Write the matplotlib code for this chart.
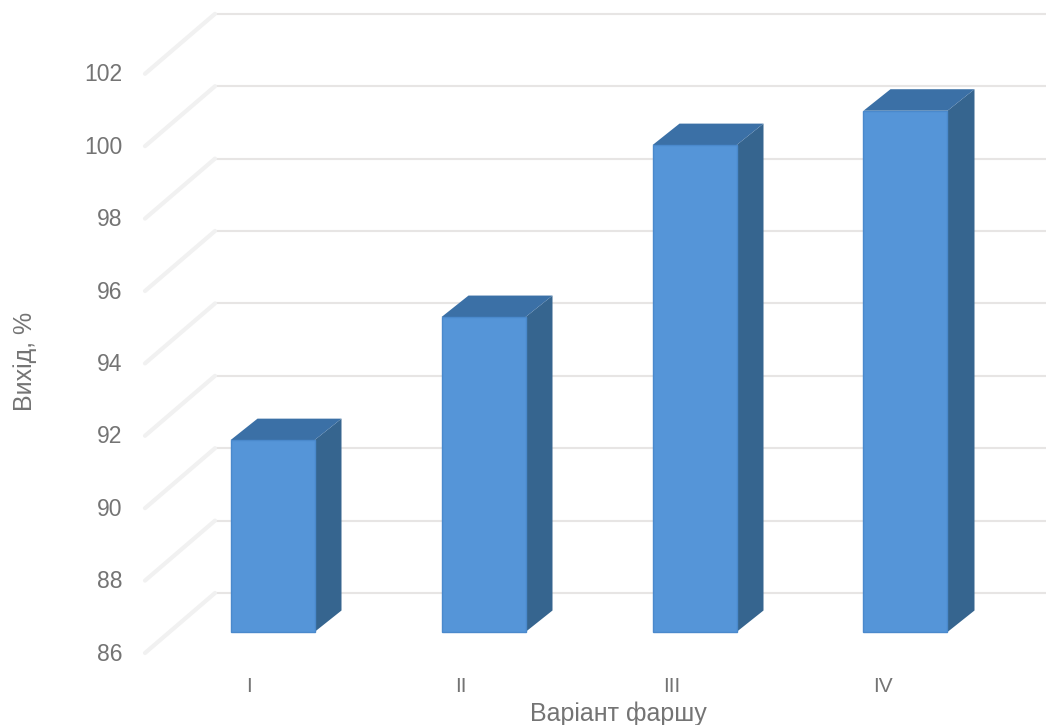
import matplotlib
matplotlib.use('Agg')
import matplotlib.pyplot as plt
from matplotlib.patches import Polygon

# Вихід за варіантами фаршу
variants = ['I', 'II', 'III', 'IV']
output_pct = [91.3, 94.7, 99.45, 100.4]
y_ticks = [86, 88, 90, 92, 94, 96, 98, 100, 102]

BASE = 86
PX_X = 211.0      # пікселів на одну категорію
PX_Y = 36.2       # пікселів на одиницю осі
W, H = 1046, 725
X0, Y0 = 272.5, 632
FONT = 'Liberation Sans'

# зсуви псевдо-3D у координатах даних
bar_w = 84 / PX_X
bar_dx = 27 / PX_X
bar_dy = 21.5 / PX_Y
wall_dy = 39 / PX_Y
front_dy = -21 / PX_Y
wall_left = (215 - X0) / PX_X
front_left = (145 - X0) / PX_X

fig = plt.figure(figsize=(W / 100, H / 100), dpi=100)
ax = fig.add_axes([0, 0, 1, 1])
ax.set_xlim(-X0 / PX_X, (W - X0) / PX_X)
ax.set_ylim(BASE - (H - Y0) / PX_Y, BASE + Y0 / PX_Y)
ax.axis('off')

# задня стінка і бічні лінії сітки
for t in y_ticks:
    ax.plot([wall_left, ax.get_xlim()[1]], [t + wall_dy, t + wall_dy],
            color='#e7e5e4', lw=1.5, zorder=1, solid_capstyle='butt')
    ax.plot([front_left, wall_left], [t + front_dy, t + wall_dy],
            color='#f1f1f1', lw=3, zorder=1, solid_capstyle='round')
    ax.text(front_left - 23 / PX_X, t + front_dy - 1 / PX_Y, str(t), ha='right', va='center',
            fontsize=16.5, color='#747474', family=FONT)

# стовпчики: бічна, верхня і передня грані
for i, v in enumerate(output_pct):
    l = i - bar_w / 2
    r = i + bar_w / 2
    ax.add_patch(Polygon([(r, BASE), (r + bar_dx, BASE + bar_dy),
                          (r + bar_dx, v + bar_dy), (r, v)],
                         fc='#36658f', ec='none', zorder=3))
    ax.add_patch(Polygon([(l, v), (l + bar_dx, v + bar_dy),
                          (r + bar_dx, v + bar_dy), (r, v)],
                         fc='#3b70a6', ec='none', zorder=3))
    ax.bar(i, v - BASE, width=bar_w, bottom=BASE, color='#5595d8',
           edgecolor='#4a89cc', linewidth=1, zorder=4)
    ax.text(i - 23 / PX_X, BASE - 54 / PX_Y, variants[i], ha='center', va='center',
            fontsize=15, color='#747474', family=FONT)

ax.text((618 - X0) / PX_X, BASE - 82 / PX_Y, 'Варіант фаршу', ha='center', va='center',
        fontsize=18, color='#747474', family=FONT)
ax.text((25 - X0) / PX_X, BASE + (632 - 361) / PX_Y, 'Вихід, %', ha='center', va='center',
        rotation=90, fontsize=18, color='#747474', family=FONT)

fig.savefig('out.png', dpi=100)
